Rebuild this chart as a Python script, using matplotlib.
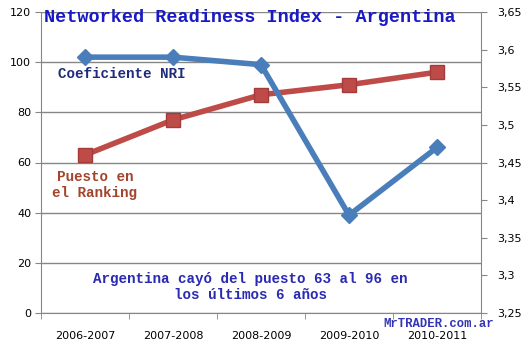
import matplotlib
matplotlib.use('Agg')
import matplotlib.pyplot as plt
from matplotlib.ticker import FuncFormatter

periodos = ["2006-2007", "2007-2008", "2008-2009", "2009-2010", "2010-2011"]
puesto_ranking = [63, 77, 87, 91, 96]
coeficiente_nri = [3.59, 3.59, 3.58, 3.38, 3.47]
ticks_izq = [0, 20, 40, 60, 80, 100, 120]
ticks_der = [3.25, 3.30, 3.35, 3.40, 3.45, 3.50, 3.55, 3.60, 3.65]

W, H = 524, 349
GRIS = '#868686'
AZUL = '#4A7EBB'
ROJO = '#BE4B48'
MONO = 'Liberation Mono'

fig = plt.figure(figsize=(W / 100, H / 100), dpi=100)
ax = fig.add_axes([41 / W, 1 - 313 / H, (481 - 41) / W, (313 - 12) / H])
x = list(range(len(periodos)))

# eje izquierdo: puesto en el ranking
ax.plot(x, puesto_ranking, color=ROJO, lw=4, marker='s', ms=10,
        mfc=ROJO, mec='#A33C39', mew=1, zorder=3)
ax.set_ylim(0, 120)
ax.set_yticks(ticks_izq)
ax.set_xlim(-0.5, len(periodos) - 0.5)
ax.set_xticks(x)
ax.set_xticklabels(periodos)
ax.set_xticks([i - 0.5 for i in range(len(periodos) + 1)], minor=True)
ax.tick_params(axis='x', which='major', length=0, pad=13, labelsize=8)
ax.tick_params(axis='x', which='minor', length=4, color=GRIS, direction='out')
ax.tick_params(axis='y', length=4, color=GRIS, labelsize=8, pad=3)
ax.grid(axis='y', color=GRIS, lw=1)
ax.set_axisbelow(True)
for lado in ['left', 'bottom']:
    ax.spines[lado].set_color(GRIS)
ax.spines['top'].set_visible(False)
ax.spines['right'].set_visible(False)

# eje derecho: coeficiente NRI
ax2 = ax.twinx()
ax2.plot(x, coeficiente_nri, color=AZUL, lw=4, marker='D', ms=8,
         mfc=AZUL, mec=AZUL, zorder=3)
ax2.set_ylim(3.25, 3.65)
ax2.set_yticks(ticks_der)
ax2.yaxis.set_major_formatter(FuncFormatter(lambda v, p: f"{v:g}".replace('.', ',')))
ax2.tick_params(axis='y', length=4, color=GRIS, labelsize=8, pad=8)
ax2.spines['right'].set_color(GRIS)
for lado in ['left', 'top', 'bottom']:
    ax2.spines[lado].set_visible(False)

def texto(px, py, s, **kw):
    fig.text(px / W, 1 - py / H, s, family=MONO, weight='bold', va='center', **kw)

texto(44, 18, "Networked Readiness Index - Argentina", size=13.3, color='#1A1AC4')
texto(58, 74, "Coeficiente NRI", size=10.3, color='#1F2C7C')
texto(95, 185, "Puesto en\nel Ranking", size=10.3, color='#A3452D', ha='center',
      linespacing=1.2)
texto(250, 287, "Argentina cayó del puesto 63 al 96 en\nlos últimos 6 años", size=10.3,
      color='#2A2AB2', ha='center', linespacing=1.15)
texto(439, 324, "MrTRADER.com.ar", size=8.8, color='#3333B5', ha='center')

fig.savefig('out.png', dpi=100, facecolor='white')
